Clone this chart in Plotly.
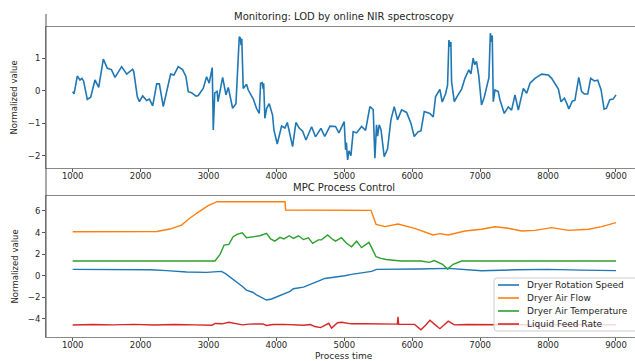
import plotly.graph_objects as go

# ---------------- data ----------------
lod_t = [1000,1020,1068,1107,1137,1160,1215,1265,1328,1383,1451,1510,1570,1623,1721,1795,1883,1900,1951,1982,
         2031,2090,2130,2178,2237,2276,2334,2442,2491,2554,2618,2667,2702,2750,2815,2849,2922,2972,3010,3055,
         3070,3092,3127,3140,3208,3257,3291,3355,3404,3453,3470,3480,3490,3511,3560,3585,3658,3708,3747,3767,
         3790,3806,3812,3830,3855,3894,3943,3963,4012,4076,4125,4160,4189,4238,4287,4336,4386,4435,4518,4575,
         4655,4712,4788,4870,4920,4998,5018,5030,5048,5068,5097,5130,5180,5254,5313,5376,5425,5450,5474,5489,
         5513,5540,5587,5636,5686,5735,5783,5843,5917,5980,6029,6088,6128,6177,6260,6309,6344,6407,6441,6490,
         6520,6540,6555,6569,6579,6619,6668,6727,6776,6834,6864,6897,6920,6946,6980,7020,7060,7109,7129,7150,
         7165,7178,7193,7218,7266,7291,7355,7414,7463,7513,7562,7636,7685,7734,7807,7906,8004,8053,8102,8152,
         8190,8240,8275,8306,8356,8395,8452,8494,8534,8584,8628,8681,8731,8780,8825,8859,8909,8958,9000]
lod_v = [-0.03,-0.10,0.45,0.33,0.38,0.30,-0.27,-0.20,0.33,0.10,0.97,0.69,0.65,0.41,0.74,0.51,0.66,0.58,-0.18,-0.34,
         -0.16,-0.30,-0.26,-0.47,0.21,0.21,-0.49,0.51,0.48,0.74,0.65,0.44,-0.03,-0.06,-0.17,-0.15,0.07,0.43,0.23,0.71,
         -1.21,-0.07,-0.02,-0.34,0.41,-0.13,0.10,-0.54,-0.40,1.66,1.62,1.40,1.60,0.07,0.20,0.02,-0.25,-0.55,-0.70,0.23,
         0.25,0.05,0.23,-0.85,-0.55,-0.40,-0.75,-1.21,-1.64,-1.09,-1.15,-0.98,-1.25,-1.72,-0.98,-1.15,-1.25,-1.52,-1.11,-1.42,
         -1.16,-1.41,-1.09,-1.10,-1.30,-0.95,-1.82,-1.60,-2.13,-1.85,-2.00,-1.26,-1.30,-1.10,-1.22,-0.49,-0.58,-2.08,-1.05,-1.40,
         -1.05,-1.20,-2.03,-1.80,-0.90,-0.49,-0.90,-0.59,-0.67,-1.00,-1.41,-1.26,-1.24,-0.64,-0.70,-0.81,-0.18,0.04,-0.35,-0.10,
         0.17,1.56,1.35,1.50,0.28,-0.34,-0.15,0.05,0.38,0.64,0.52,1.00,0.80,0.90,0.45,-0.44,-0.20,0.23,0.40,1.77,
         1.50,1.70,-0.34,0.02,-0.03,-0.28,-0.70,-0.50,-0.60,-0.13,-0.60,0.07,-0.08,0.23,0.38,0.51,0.48,0.38,0.20,0.05,
         -0.34,-0.23,-0.39,-0.56,-0.32,-0.30,0.41,-0.03,-0.10,-0.10,0.38,0.30,0.32,0.03,-0.57,-0.54,-0.28,-0.26,-0.13]

speed_t = [1000,1500,2140,2384,2677,2971,3100,3190,3250,3313,3380,3435,3500,3558,3620,3658,3700,3756,3810,3854,
           3928,3990,4052,4100,4140,4200,4250,4320,4398,4460,4518,4617,4712,4808,4908,5006,5106,5200,5303,5400,
           5475,5790,6100,6530,7020,7512,8004,8495,9000]
speed_v = [0.59,0.58,0.56,0.47,0.34,0.31,0.33,0.40,0.20,-0.09,-0.40,-0.71,-1.00,-1.33,-1.45,-1.55,-1.75,-1.95,-2.10,-2.25,
           -2.15,-2.00,-1.80,-1.75,-1.65,-1.45,-1.20,-1.15,-1.05,-0.90,-0.73,-0.50,-0.25,-0.18,-0.10,0.00,0.13,0.22,0.30,0.40,
           0.59,0.59,0.62,0.68,0.46,0.55,0.59,0.52,0.47]

flow_t = [1000,1500,2000,2237,2431,2603,2700,2824,2995,3127,3500,4127,4135,4800,5393,5467,5530,5600,5790,6035,
          6309,6407,6530,6776,7020,7218,7414,7611,7807,8053,8300,8594,8790,9000]
flow_v = [4.07,4.07,4.08,4.10,4.32,4.69,5.20,5.78,6.48,6.85,6.85,6.85,6.08,6.06,6.05,4.76,4.65,4.55,4.79,4.39,
          3.77,3.90,3.77,4.14,4.30,4.54,4.39,4.14,4.20,4.45,4.20,4.30,4.54,4.91]

temp_t = [1000,2000,3095,3170,3230,3300,3362,3420,3496,3560,3658,3756,3854,3914,3977,4052,4110,4189,4250,4324,
          4398,4470,4534,4617,4664,4754,4812,4870,4958,5032,5106,5180,5254,5362,5411,5467,5540,5614,5835,6130,
          6250,6325,6446,6520,6603,6726,7500,8500,9000]
temp_v = [1.36,1.36,1.36,1.98,2.84,2.90,3.61,3.82,3.98,3.51,3.60,3.70,3.92,3.41,3.20,3.55,3.41,3.70,3.45,3.70,
          3.35,3.50,3.00,3.32,3.32,3.77,3.45,3.20,3.52,3.00,2.68,3.20,2.60,3.09,2.48,1.76,1.61,1.50,1.36,1.36,
          1.24,1.40,1.06,0.62,1.06,1.36,1.36,1.36,1.36]

feed_t = [1000,1300,1600,1900,2200,2500,2800,2971,3050,3100,3200,3300,3400,3500,3600,3700,3800,3854,3950,4100,
          4250,4400,4500,4566,4650,4770,4812,4900,4960,5100,5300,5500,5780,5790,5800,6035,6128,6200,6260,6330,
          6407,6530,6620,6800,7200,7600,8000,8400,9000]
feed_v = [-4.56,-4.52,-4.55,-4.50,-4.56,-4.52,-4.55,-4.60,-4.58,-4.42,-4.45,-4.30,-4.45,-4.55,-4.48,-4.50,-4.46,-4.60,-4.52,-4.50,
          -4.55,-4.58,-4.52,-4.70,-4.80,-4.40,-4.85,-4.35,-4.30,-4.45,-4.45,-4.48,-4.48,-3.80,-4.50,-4.50,-5.00,-4.55,-4.12,-4.50,
          -4.90,-4.20,-4.55,-4.52,-4.55,-4.52,-4.55,-4.53,-4.55]

series_names = ["Dryer Rotation Speed", "Dryer Air Flow", "Dryer Air Temperature", "Liquid Feed Rate"]
x_ticks = [1000, 2000, 3000, 4000, 5000, 6000, 7000, 8000, 9000]
y1_ticks = [-2, -1, 0, 1]
y2_ticks = [-4, -2, 0, 2, 4, 6]

# ---------------- figure ----------------
W, H = 635, 361
COLORS = ["#1f77b4", "#ff7f0e", "#2ca02c", "#d62728"]
FONT = "DejaVu Sans"
TXT = "#262626"

fig = go.Figure()
fig.add_trace(go.Scatter(x=lod_t, y=lod_v, mode="lines", line=dict(color=COLORS[0], width=1.6),
                         showlegend=False, xaxis="x", yaxis="y"))
for (t, v), c, n in zip([(speed_t, speed_v), (flow_t, flow_v), (temp_t, temp_v), (feed_t, feed_v)],
                        COLORS, series_names):
    fig.add_trace(go.Scatter(x=t, y=v, mode="lines", name=n, line=dict(color=c, width=1.4),
                             showlegend=False, xaxis="x2", yaxis="y2"))

def minus(v):
    return str(v).replace("-", "\u2212")

def px(x):
    return x / W

def py(y):
    return 1 - y / H

left = px(46)
xr = [607, 9280]
axis_common = dict(showgrid=False, zeroline=False, ticks="outside", ticklen=3, tickcolor="#555",
                   tickfont=dict(family=FONT, size=8.5, color=TXT), showline=True, linecolor="#888",
                   linewidth=1)
fig.update_layout(
    width=W, height=H, margin=dict(l=0, r=0, t=0, b=0),
    paper_bgcolor="white", plot_bgcolor="white", showlegend=False,
    xaxis=dict(domain=[left, 1], range=xr, anchor="y", tickvals=x_ticks, mirror=True,
               ticklabelstandoff=-3, **axis_common),
    yaxis=dict(domain=[py(168), py(27)], range=[-2.38, 1.96], anchor="x",
               tickvals=y1_ticks, ticktext=[minus(v) for v in y1_ticks], **axis_common),
    xaxis2=dict(domain=[left, 1], range=xr, anchor="y2", tickvals=x_ticks, mirror=True,
                ticklabelstandoff=-3, **axis_common),
    yaxis2=dict(domain=[py(337), py(196)], range=[-5.67, 7.38], anchor="x2",
                tickvals=y2_ticks, ticktext=[minus(v) for v in y2_ticks], **axis_common),
)

# continuous left spine (extends above top axes, as in reference)
fig.add_shape(type="line", xref="paper", yref="paper", x0=left, x1=left, y0=py(337), y1=py(14),
              line=dict(color="#555", width=1))

# legend box (matplotlib style: compact, semi-transparent, lower right)
lx0, lx1, ly0, ly1, r = 494, 645, 278, 331, 3
path = (f"M {px(lx0 + r)},{py(ly0)} L {px(lx1)},{py(ly0)} L {px(lx1)},{py(ly1)} L {px(lx0 + r)},{py(ly1)} "
        f"Q {px(lx0)},{py(ly1)} {px(lx0)},{py(ly1 - r)} L {px(lx0)},{py(ly0 + r)} "
        f"Q {px(lx0)},{py(ly0)} {px(lx0 + r)},{py(ly0)} Z")
fig.add_shape(type="path", xref="paper", yref="paper", path=path,
              fillcolor="rgba(255,255,255,0.8)", line=dict(color="rgba(200,200,200,0.9)", width=1))
for i, (c, n) in enumerate(zip(COLORS, series_names)):
    yy = 285 + i * 13
    fig.add_shape(type="line", xref="paper", yref="paper", x0=px(498), x1=px(519), y0=py(yy), y1=py(yy),
                  line=dict(color=c, width=1.6))
    fig.add_annotation(text=n, xref="paper", yref="paper", x=px(525), y=py(yy), showarrow=False,
                       xanchor="left", yanchor="middle", font=dict(family=FONT, size=9, color=TXT))

ann = [
    dict(text="Monitoring: LOD by online NIR spectroscopy", x=px(344), y=py(17), size=10),
    dict(text="MPC Process Control", x=px(344), y=py(187.5), size=10),
    dict(text="Process time", x=px(344), y=py(356), size=9),
]
for a in ann:
    fig.add_annotation(text=a["text"], xref="paper", yref="paper", x=a["x"], y=a["y"], showarrow=False,
                       xanchor="center", yanchor="middle", font=dict(family=FONT, size=a["size"], color=TXT))
for yc in [97.5, 266.5]:
    fig.add_annotation(text="Normalized value", xref="paper", yref="paper", x=px(14), y=py(yc),
                       showarrow=False, textangle=-90, xanchor="center", yanchor="middle",
                       font=dict(family=FONT, size=8.5, color=TXT))

fig.write_html("out.html")
